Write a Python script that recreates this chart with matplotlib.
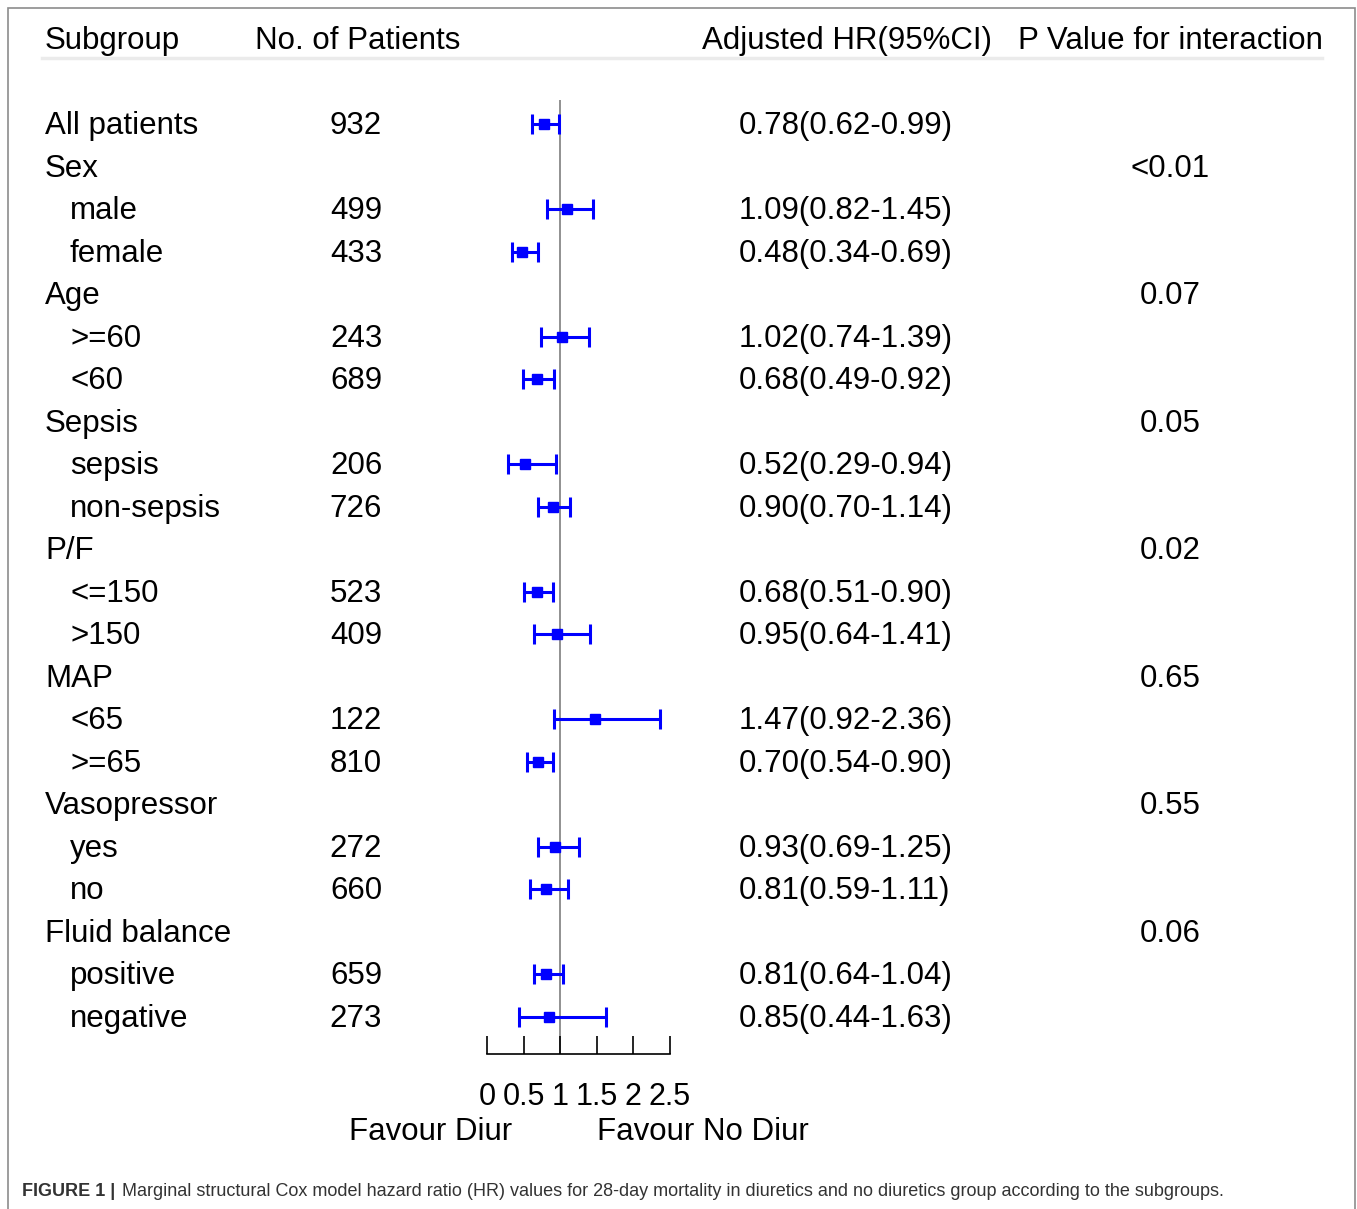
import matplotlib
matplotlib.use("Agg")
import matplotlib.pyplot as plt
from matplotlib.transforms import blended_transform_factory
from matplotlib.patches import Rectangle

labels = ["All patients", "Sex", "male", "female", "Age", ">=60", "<60",
          "Sepsis", "sepsis", "non-sepsis", "P/F", "<=150", ">150",
          "MAP", "<65", ">=65", "Vasopressor", "yes", "no",
          "Fluid balance", "positive", "negative"]
is_sub = [False, False, True, True, False, True, True, False, True, True,
          False, True, True, False, True, True, False, True, True, False, True, True]
patients = ["932", "", "499", "433", "", "243", "689", "", "206", "726", "",
            "523", "409", "", "122", "810", "", "272", "660", "", "659", "273"]
hr = [0.78, None, 1.09, 0.48, None, 1.02, 0.68, None, 0.52, 0.90, None,
      0.68, 0.95, None, 1.47, 0.70, None, 0.93, 0.81, None, 0.81, 0.85]
lo = [0.62, None, 0.82, 0.34, None, 0.74, 0.49, None, 0.29, 0.70, None,
      0.51, 0.64, None, 0.92, 0.54, None, 0.69, 0.59, None, 0.64, 0.44]
hi = [0.99, None, 1.45, 0.69, None, 1.39, 0.92, None, 0.94, 1.14, None,
      0.90, 1.41, None, 2.36, 0.90, None, 1.25, 1.11, None, 1.04, 1.63]
pvals = ["", "<0.01", "", "", "0.07", "", "", "0.05", "", "", "0.02", "", "",
         "0.65", "", "", "0.55", "", "", "0.06", "", ""]
xticks = [0, 0.5, 1, 1.5, 2, 2.5]

W, H = 1357, 1209
plt.rcParams['font.family'] = ['Liberation Sans', 'DejaVu Sans']
fig = plt.figure(figsize=(W / 100, H / 100), dpi=100)

def fx(px):
    return px / W

def fy(py):
    return 1 - py / H

# forest axes: 0 -> 487px, 2.5 -> 670px; rows start at 124px, 42.5px apart
top_px, bot_px = 100, 1054
ax = fig.add_axes([fx(487), fy(bot_px), fx(670) - fx(487), (bot_px - top_px) / H])
ax.set_xlim(0, 2.5)
ax.set_ylim((bot_px - 124) / 42.5, (top_px - 124) / 42.5)
ax.patch.set_visible(False)
for s in ['top', 'right', 'left']:
    ax.spines[s].set_visible(False)
ax.spines['bottom'].set_linewidth(1.2)
ax.set_yticks([])
ax.set_xticks(xticks)
ax.set_xticklabels([f"{t:g}" for t in xticks])
ax.tick_params(axis='x', direction='in', length=13, width=1.2, pad=20, labelsize=22)

ax.axvline(1, color='#888888', lw=1.3, zorder=1)

for i in range(len(labels)):
    if hr[i] is None:
        continue
    ax.errorbar(hr[i], i, xerr=[[hr[i] - lo[i]], [hi[i] - hr[i]]], fmt='s',
                color='#0000ff', ms=7.5, lw=2.2, capsize=7, capthick=2.2, zorder=3)

tr = blended_transform_factory(fig.transFigure, ax.transData)
fs = 22.5
dy = 0.05  # nudge text down a touch
for i, lab in enumerate(labels):
    ax.text(fx(70 if is_sub[i] else 45), i + dy, lab, transform=tr, fontsize=fs,
            va='center', ha='left', clip_on=False)
    if patients[i]:
        ax.text(fx(356), i + dy, patients[i], transform=tr, fontsize=fs,
                va='center', ha='center', clip_on=False)
    if hr[i] is not None:
        ax.text(fx(739), i + dy, f"{hr[i]:.2f}({lo[i]:.2f}-{hi[i]:.2f})", transform=tr,
                fontsize=fs, va='center', ha='left', clip_on=False)
    if pvals[i]:
        ax.text(fx(1170), i + dy, pvals[i], transform=tr, fontsize=fs,
                va='center', ha='center', clip_on=False)

# header
for x, t in [(45, "Subgroup"), (255, "No. of Patients"),
             (702, "Adjusted HR(95%CI)"), (1018, "P Value for interaction")]:
    fig.text(fx(x), fy(41), t, fontsize=fs, va='center', ha='left')
fig.add_artist(plt.Line2D([fx(42), fx(1322)], [fy(58), fy(58)],
                          color='#ebebeb', lw=2.5, transform=fig.transFigure))

fig.text(fx(431), fy(1132), "Favour Diur", fontsize=fs, ha='center', va='center')
fig.text(fx(703), fy(1132), "Favour No Diur", fontsize=fs, ha='center', va='center')

# frame and caption
fig.add_artist(Rectangle((fx(8), fy(1240)), fx(1355) - fx(8), (1240 - 8) / H,
                         transform=fig.transFigure, fill=False,
                         edgecolor='#8c8c8c', lw=1.2))
cap_font = ['Liberation Sans Narrow', 'Liberation Sans', 'DejaVu Sans']
fig.text(fx(22), fy(1191), "FIGURE 1 |", fontsize=13, fontweight='bold',
         family=cap_font, color='#333333', va='center', ha='left')
fig.text(fx(122), fy(1191),
         "Marginal structural Cox model hazard ratio (HR) values for 28-day mortality "
         "in diuretics and no diuretics group according to the subgroups.",
         fontsize=13, family=cap_font, color='#333333', va='center', ha='left')

fig.savefig("out.png", dpi=100)
